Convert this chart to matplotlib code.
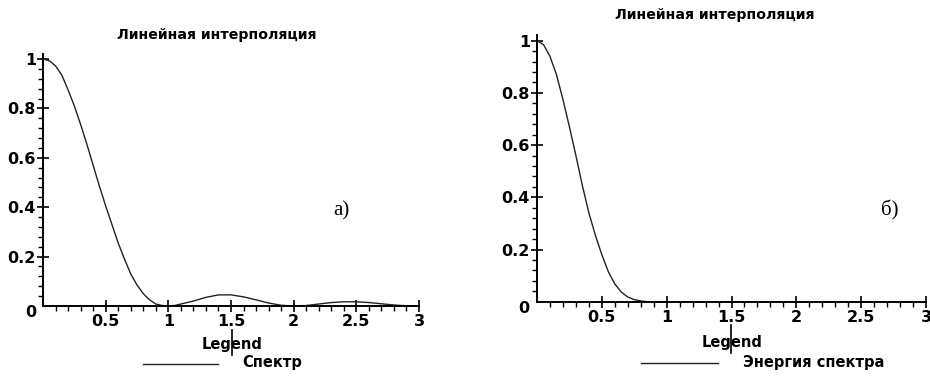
import matplotlib
matplotlib.use("Agg")
import matplotlib.pyplot as plt
from matplotlib.lines import Line2D
import numpy as np

# ---- data ----
title_text = "Линейная интерполяция"
legend_title = "Legend"
left_label = "Спектр"
right_label = "Энергия спектра"
left_tag = "a)"
right_tag = "б)"

x_ticks = [0.5, 1, 1.5, 2, 2.5, 3]
x_tick_labels = ["0.5", "1", "1.5", "2", "2.5", "3"]
y_ticks = [0.2, 0.4, 0.6, 0.8, 1]
y_tick_labels = ["0.2", "0.4", "0.6", "0.8", "1"]

spec_x = [0, 0.05, 0.1, 0.15, 0.2, 0.25, 0.3, 0.35, 0.4, 0.45, 0.5, 0.55, 0.6, 0.65,
          0.7, 0.75, 0.8, 0.85, 0.9, 0.95, 1.0, 1.05, 1.1, 1.2, 1.3, 1.4, 1.5, 1.6,
          1.7, 1.8, 1.9, 2.0, 2.1, 2.2, 2.3, 2.4, 2.5, 2.6, 2.7, 2.8, 2.9, 3.0]
spec_y = [1, 0.993, 0.972, 0.935, 0.875, 0.81, 0.735, 0.655, 0.57, 0.485, 0.405, 0.33,
          0.255, 0.19, 0.13, 0.085, 0.05, 0.025, 0.008, 0.002, 0.0, 0.002, 0.008, 0.02,
          0.035, 0.045, 0.045, 0.037, 0.025, 0.012, 0.003, 0.0, 0.002, 0.008, 0.014,
          0.017, 0.017, 0.014, 0.009, 0.004, 0.001, 0.0]

energy_x = [0, 0.05, 0.1, 0.15, 0.2, 0.25, 0.3, 0.35, 0.4, 0.45, 0.5, 0.55, 0.6, 0.65,
            0.7, 0.75, 0.8, 0.85, 3.0]
energy_y = [1, 0.985, 0.94, 0.87, 0.775, 0.67, 0.56, 0.445, 0.34, 0.255, 0.18, 0.115,
            0.068, 0.037, 0.018, 0.008, 0.003, 0.0, 0.0]

W, H = 930, 376
fig = plt.figure(figsize=(W / 100, H / 100), dpi=100)
fig.patch.set_facecolor("white")

tick_font = dict(family="DejaVu Sans", weight="heavy", size=11.5)


def px_axes(x0, x1, y0, y1, ytop):
    per = (y0 - y1)
    top_px = y0 - ytop * per
    return [x0 / W, (H - y0) / H, (x1 - x0) / W, (y0 - top_px) / H]


def style(ax):
    ax.set_xlim(0, 3)
    ax.set_ylim(0, 1.02)
    for s in ["top", "right"]:
        ax.spines[s].set_visible(False)
    for s in ["left", "bottom"]:
        ax.spines[s].set_linewidth(1.4)
        ax.spines[s].set_color("black")
    ax.set_xticks(x_ticks)
    ax.set_xticklabels(x_tick_labels, fontdict=tick_font)
    ax.set_yticks(y_ticks)
    ax.set_yticklabels(y_tick_labels, fontdict=tick_font)
    ax.set_xticks(np.arange(0.1, 3.0, 0.1), minor=True)
    ax.set_yticks(np.arange(0.04, 1.0, 0.04), minor=True)
    ax.tick_params(which="major", direction="inout", length=8, width=1.2, color="black", pad=2)
    ax.tick_params(which="minor", direction="out", length=3.5, width=1.0, color="black")
    ax.tick_params(axis="y", which="major", pad=1)
    ax.set_facecolor("white")


# left panel
axL = fig.add_axes(px_axes(43, 419, 306, 59, 1.02))
style(axL)
axL.plot(spec_x, spec_y, color="#222222", lw=1.0, clip_on=False)
axL.text(-0.055, -0.025, "0", transform=axL.transData, ha="right", va="center", fontdict=tick_font)
axL.text(2.38, 0.385, left_tag, family="Liberation Serif", fontsize=15, ha="center", va="center")

# right panel
axR = fig.add_axes(px_axes(537, 926, 301.7, 40.7, 1.02))
style(axR)
axR.plot(energy_x, energy_y, color="#222222", lw=1.0, clip_on=False)
axR.text(-0.055, -0.025, "0", transform=axR.transData, ha="right", va="center", fontdict=tick_font)
axR.text(2.72, 0.35, right_tag, family="Liberation Serif", fontsize=15, ha="center", va="center")

# titles
title_font = dict(family="DejaVu Sans", weight="heavy", size=10.2)
fig.text(217 / W, 1 - 35 / H, title_text, ha="center", va="center", fontdict=title_font)
fig.text(715 / W, 1 - 15 / H, title_text, ha="center", va="center", fontdict=title_font)

# legends
leg_font = dict(family="DejaVu Sans", weight="heavy", size=10.5)
fig.text(232 / W, 1 - 345 / H, legend_title, ha="center", va="center", fontdict=leg_font)
fig.text(732 / W, 1 - 343 / H, legend_title, ha="center", va="center", fontdict=leg_font)
fig.add_artist(Line2D([143 / W, 218 / W], [1 - 364 / H, 1 - 364 / H], color="#222222", lw=1.0))
fig.add_artist(Line2D([641 / W, 718 / W], [1 - 363 / H, 1 - 363 / H], color="#222222", lw=1.0))
fig.text(242 / W, 1 - 363 / H, left_label, ha="left", va="center", fontdict=leg_font)
fig.text(743 / W, 1 - 362 / H, right_label, ha="left", va="center", fontdict=leg_font)
# vertical marks through the legend headings
fig.add_artist(Line2D([232 / W, 232 / W], [1 - 330 / H, 1 - 355 / H], color="black", lw=1.2))
fig.add_artist(Line2D([731 / W, 731 / W], [1 - 325 / H, 1 - 353 / H], color="black", lw=1.2))

fig.savefig("out.png", dpi=100, facecolor="white")
